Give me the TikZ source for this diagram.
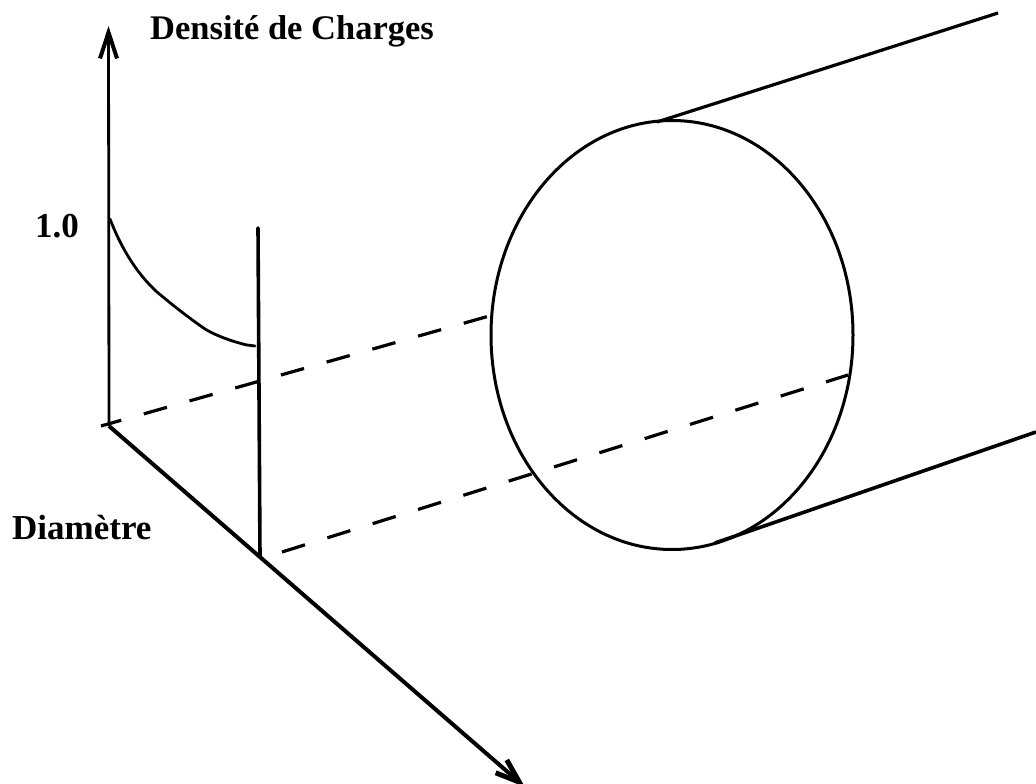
\documentclass[tikz,border=0pt]{standalone}
\usepackage{fontspec}
\setmainfont{Liberation Serif}
\usetikzlibrary{arrows.meta}
\tikzset{
  ln/.style={line width=3pt,black},
  thin ln/.style={line width=2.8pt,black},
  dashA/.style={line width=3.2pt,black,dash pattern=on 24pt off 23.5pt,dash phase=3pt},
  dashB/.style={line width=3.2pt,black,dash pattern=on 24.1pt off 23.4pt},
  lbl/.style={font=\bfseries\fontsize{35}{38}\selectfont,inner sep=0pt,anchor=base west},
  arrup/.style={-{Straight Barb[length=26pt,width=17pt,line width=4pt]}},
  arrdn/.style={-{Straight Barb[length=24pt,width=17pt,line width=5pt]}}
}
\begin{document}
\begin{tikzpicture}[x=1pt,y=-1pt]
\useasboundingbox (0,0) rectangle (1036,784);
\fill[white] (0,0) rectangle (1036,784);
\coordinate (o) at (109,426);
\coordinate (ytop) at (108.5,26);
\coordinate (xend) at (525,787);
\coordinate (foot) at (260,556);
\coordinate (ptop) at (258,228);
\coordinate (c1) at (657,122);
\coordinate (c2) at (998,13);
\coordinate (c3) at (715,543);
\coordinate (c4) at (1036,432);
\coordinate (ca) at (101,426);
\coordinate (cb) at (491,315.5);
\coordinate (cc) at (282,552);
\coordinate (cd) at (848,375);
\clip (0,0) rectangle (1036,784);
\draw[thin ln,arrup] (o) -- (ytop);
\draw[ln,line width=4pt,arrdn] (o) -- (xend);
\draw[ln,line width=3.6pt,line cap=round] (foot) -- (ptop);
\draw[thin ln,line cap=round,line join=round] (110,219) .. controls (120,245) and (135,272) .. (157,292) .. controls (176,308) and (192,320) .. (205,329) .. controls (218,337) and (238,343) .. (247,345) -- (255,346);
\draw[ln] (672,335) ellipse [x radius=181,y radius=214.5];
\draw[ln,line width=3.2pt] (c1) -- (c2);
\draw[ln,line width=3.6pt] (c3) -- (c4);
\draw[dashA] (ca) -- (cb);
\draw[dashB] (cc) -- (cd);
\node[lbl,font=\bfseries\fontsize{34.5}{38}\selectfont] (t1) at (150,40) {Densité de Charges};
\node[lbl] (t2) at (35,237) {1.0};
\node[lbl] (t3) at (12,539) {Diamètre};
\end{tikzpicture}
\end{document}
